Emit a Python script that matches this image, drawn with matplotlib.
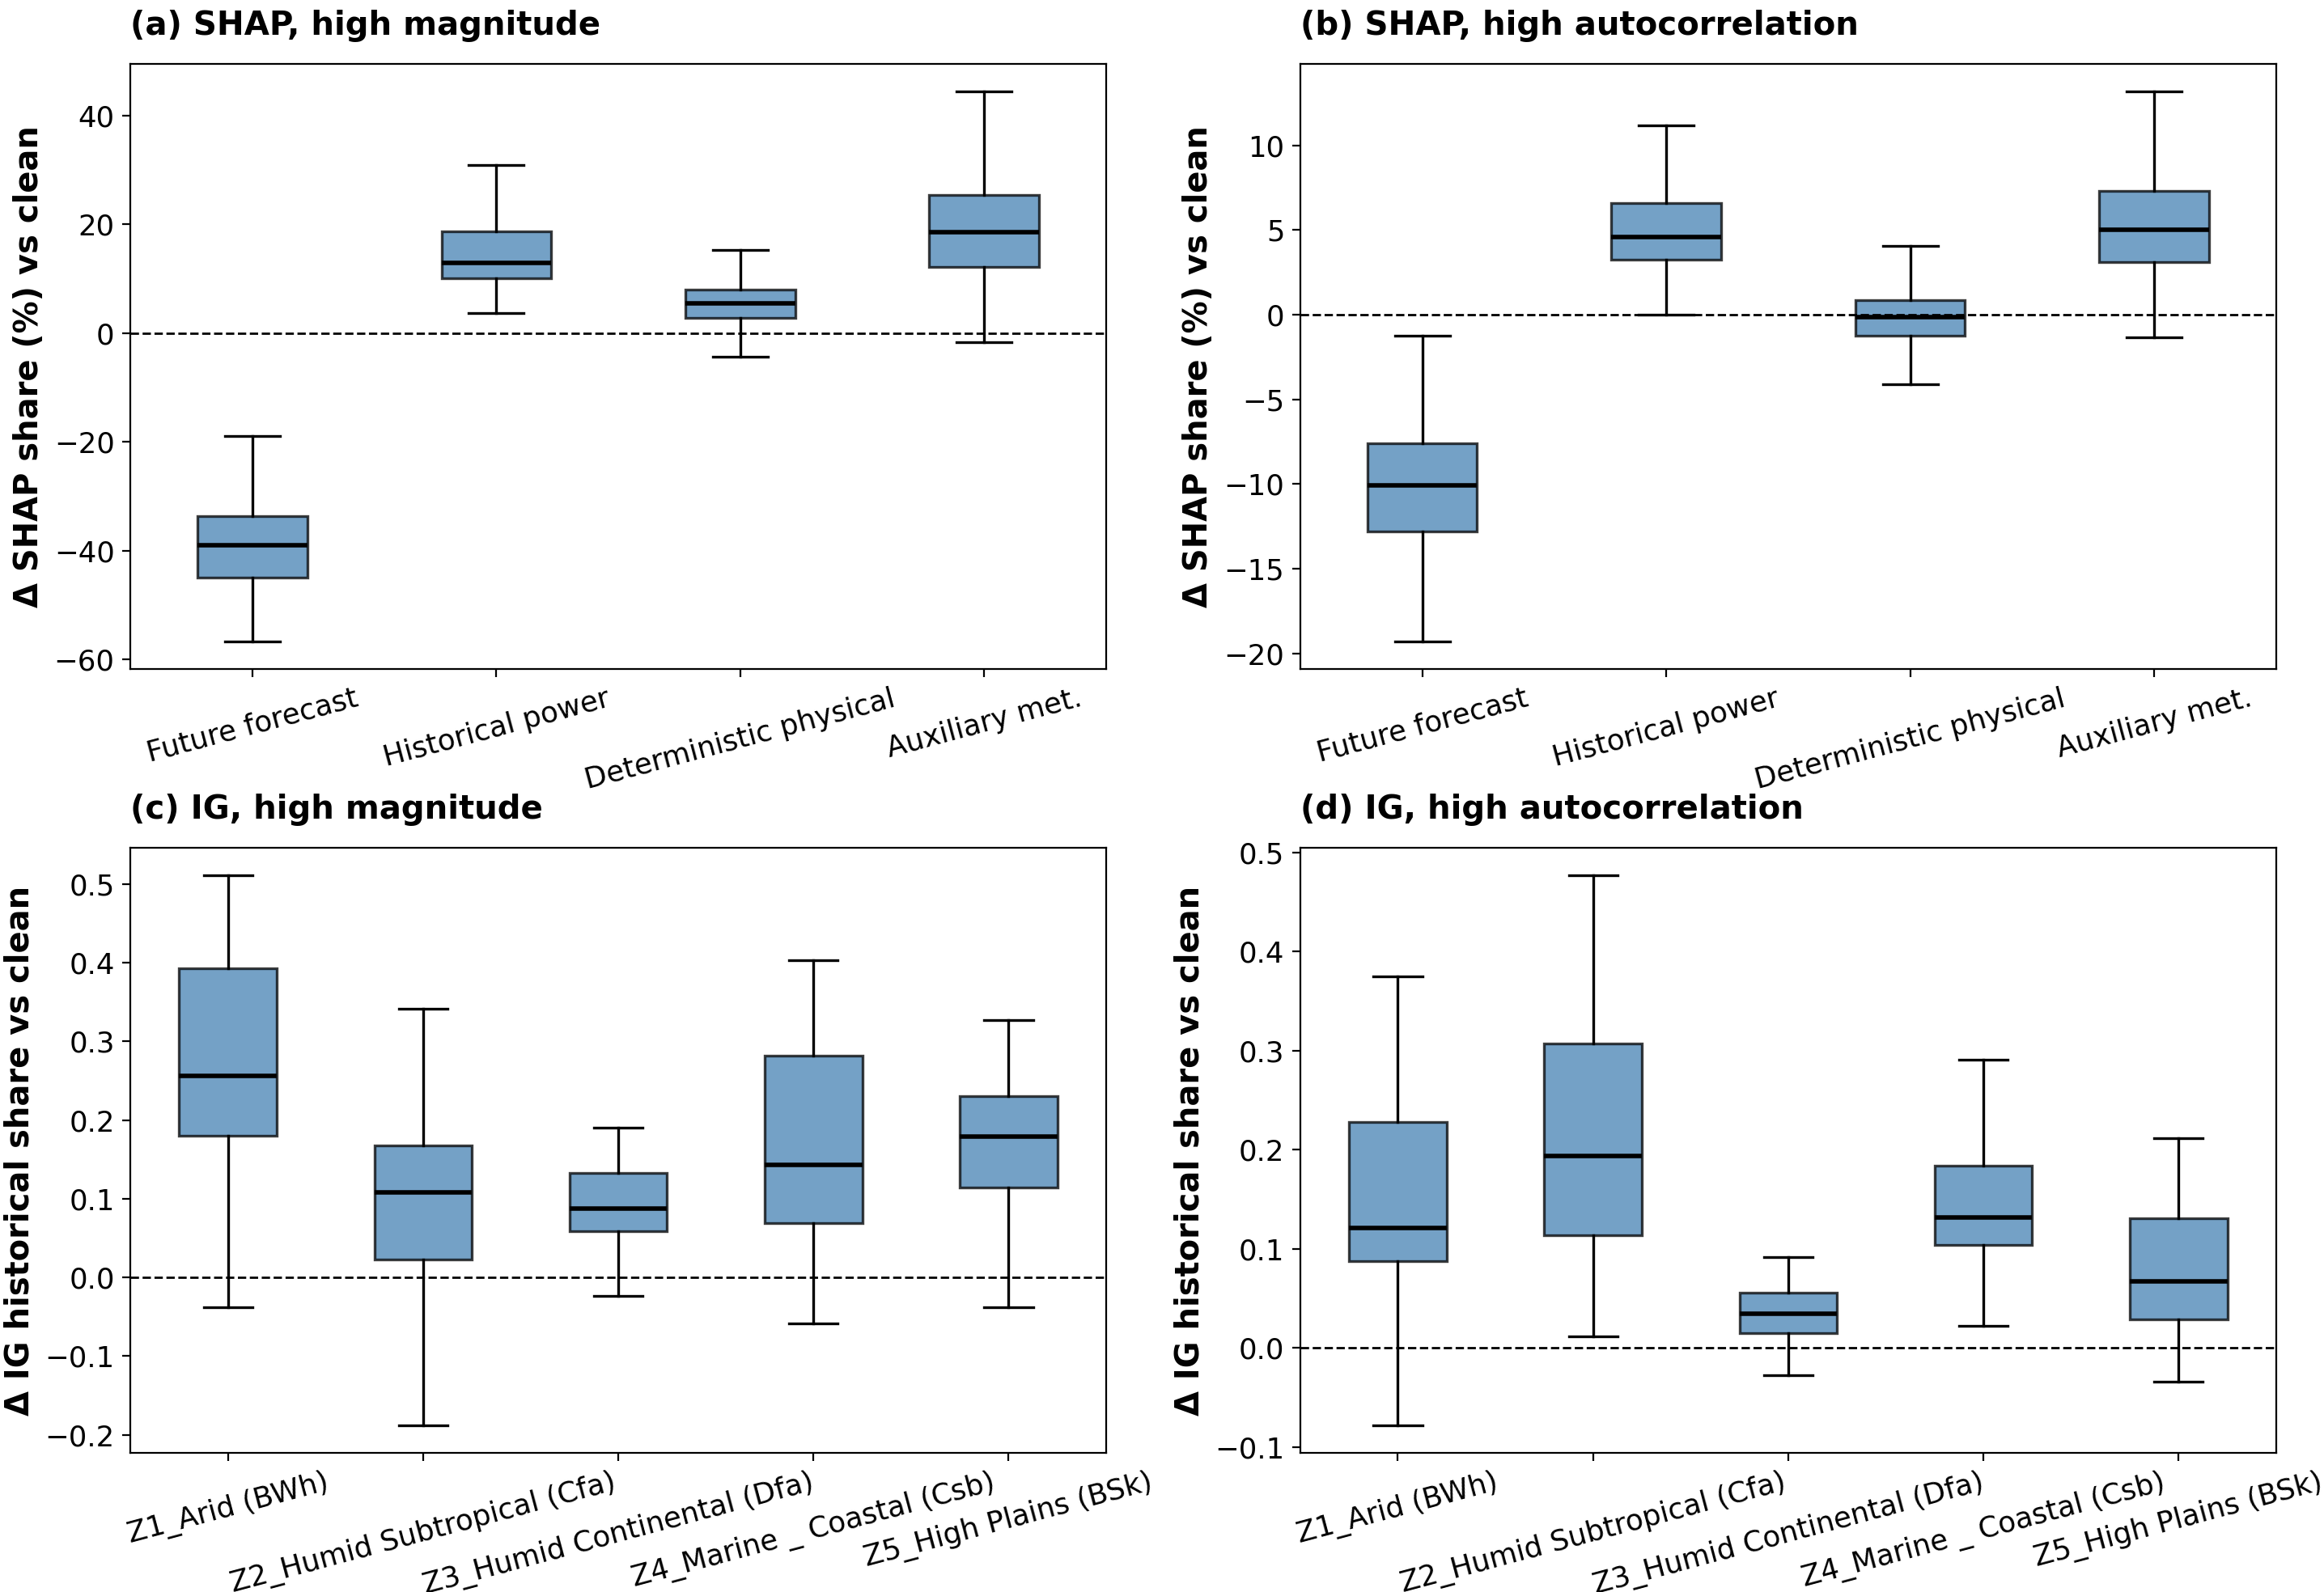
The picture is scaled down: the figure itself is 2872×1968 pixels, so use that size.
import matplotlib
matplotlib.use('Agg')
import matplotlib.pyplot as plt

# feature groups (SHAP panels) and climate zones (IG panels)
shap_groups = ['Future forecast', 'Historical power', 'Deterministic physical', 'Auxiliary met.']
zones = ['Z1_Arid (BWh)', 'Z2_Humid Subtropical (Cfa)', 'Z3_Humid Continental (Dfa)',
         'Z4_Marine _ Coastal (Csb)', 'Z5_High Plains (BSk)']

# (a) SHAP, high magnitude  -- whisker low, Q1, median, Q3, whisker high
a_lo = [-56.7, 3.6, -4.4, -1.7]
a_q1 = [-44.9, 10.0, 2.7, 12.1]
a_med = [-39.0, 12.9, 5.5, 18.5]
a_q3 = [-33.6, 18.7, 7.9, 25.4]
a_hi = [-19.0, 30.8, 15.2, 44.4]

# (b) SHAP, high autocorrelation
b_lo = [-19.3, 0.0, -4.1, -1.35]
b_q1 = [-12.8, 3.25, -1.23, 3.1]
b_med = [-10.06, 4.6, -0.15, 5.0]
b_q3 = [-7.6, 6.6, 0.88, 7.3]
b_hi = [-1.26, 11.2, 4.06, 13.2]

# (c) IG, high magnitude
c_lo = [-0.038, -0.188, -0.024, -0.059, -0.038]
c_q1 = [0.180, 0.023, 0.059, 0.069, 0.114]
c_med = [0.256, 0.108, 0.087, 0.143, 0.179]
c_q3 = [0.393, 0.168, 0.133, 0.282, 0.230]
c_hi = [0.511, 0.341, 0.190, 0.403, 0.327]

# (d) IG, high autocorrelation
d_lo = [-0.078, 0.012, -0.027, 0.022, -0.034]
d_q1 = [0.088, 0.114, 0.015, 0.104, 0.029]
d_med = [0.121, 0.194, 0.035, 0.132, 0.067]
d_q3 = [0.228, 0.307, 0.056, 0.184, 0.131]
d_hi = [0.375, 0.477, 0.092, 0.291, 0.212]


def make_stats(labels, lo, q1, med, q3, hi):
    return [dict(label=l, whislo=w0, q1=b0, med=m, q3=b1, whishi=w1, fliers=[])
            for l, w0, b0, m, b1, w1 in zip(labels, lo, q1, med, q3, hi)]


def draw_panel(ax, stats, width, title, ylabel):
    ax.bxp(stats, widths=width, patch_artist=True, showfliers=False,
           boxprops=dict(facecolor='steelblue', edgecolor='black', alpha=0.75, linewidth=1.2),
           medianprops=dict(color='black', linewidth=2),
           whiskerprops=dict(color='black', linewidth=1.2),
           capprops=dict(color='black', linewidth=1.2))
    ax.axhline(0, color='black', linestyle='--', linewidth=1)
    ax.set_title(title, loc='left', fontsize=14.5, fontweight='bold', pad=13)
    ax.set_ylabel(ylabel, fontsize=14.4, fontweight='bold')
    ax.tick_params(labelsize=12.8)
    plt.setp(ax.get_xticklabels(), rotation=15)


fig = plt.figure(figsize=(14.36, 9.84), dpi=200)
w, h = 0.4199, 0.3801
ax_a = fig.add_axes([0.0561, 0.5798, w, h])
ax_b = fig.add_axes([0.5595, 0.5798, w, h])
ax_c = fig.add_axes([0.0561, 0.0874, w, h])
ax_d = fig.add_axes([0.5595, 0.0874, w, h])

draw_panel(ax_a, make_stats(shap_groups, a_lo, a_q1, a_med, a_q3, a_hi), 0.45,
           '(a) SHAP, high magnitude', 'Δ SHAP share (%) vs clean')
draw_panel(ax_b, make_stats(shap_groups, b_lo, b_q1, b_med, b_q3, b_hi), 0.45,
           '(b) SHAP, high autocorrelation', 'Δ SHAP share (%) vs clean')
draw_panel(ax_c, make_stats(zones, c_lo, c_q1, c_med, c_q3, c_hi), 0.5,
           '(c) IG, high magnitude', 'Δ IG historical share vs clean')
draw_panel(ax_d, make_stats(zones, d_lo, d_q1, d_med, d_q3, d_hi), 0.5,
           '(d) IG, high autocorrelation', 'Δ IG historical share vs clean')

fig.savefig('out.png', dpi=200)
